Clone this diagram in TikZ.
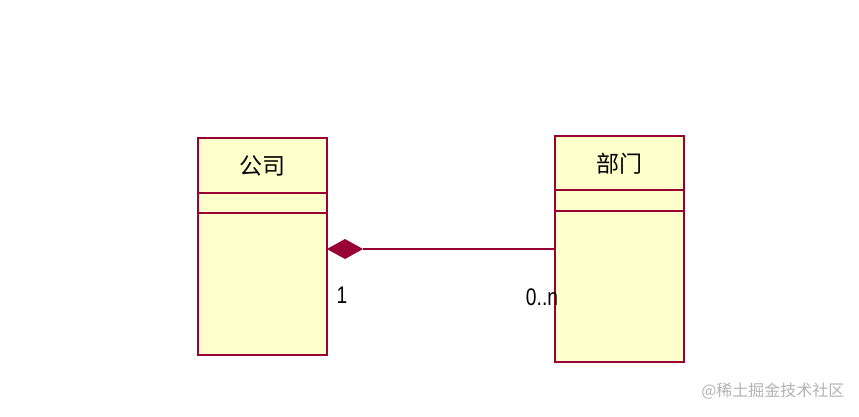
\documentclass[tikz,border=0pt]{standalone}
\usepackage{fontspec}
\setmainfont{Liberation Sans}
\newfontfamily\cjk{Noto Sans CJK SC}
\definecolor{umlred}{HTML}{990033}
\definecolor{umlfill}{HTML}{FFFFCC}
\begin{document}
\begin{tikzpicture}[x=1pt,y=-1pt,
  cls/.style={draw=umlred,fill=umlfill,line width=1.5pt},
  sep/.style={draw=umlred,line width=1.5pt}]
\useasboundingbox (0,0) rectangle (859,416);
% left class
\path[cls] (198,138) rectangle (327,355);
\draw[sep] (198,193) -- (327,193);
\draw[sep] (198,213) -- (327,213);
\node (a) at (262.5,166) {\cjk\fontsize{23}{26}\selectfont 公司};
% right class
\path[cls] (555,136) rectangle (684,362);
\draw[sep] (555,190) -- (684,190);
\draw[sep] (555,211) -- (684,211);
\node (b) at (619.5,164) {\cjk\fontsize{23}{26}\selectfont 部门};
\coordinate (s) at (327,249);
\coordinate (t) at (555,249);
\coordinate (d) at (363,249);
\fill[umlred] (s) -- (345,239) -- (d) -- (345,259) -- cycle;
\draw[umlred,line width=1.8pt] (d) -- (t);
\node (m1) at (342,295) {\fontsize{24}{26}\selectfont\addfontfeature{FakeStretch=0.8} 1};
\node (m2) at (542,297) {\fontsize{24}{26}\selectfont\addfontfeature{FakeStretch=0.8} 0..n};
\node[text=gray!60,anchor=east] (w) at (848,391) {\cjk\fontsize{16}{18}\selectfont @稀土掘金技术社区};
\end{tikzpicture}
\end{document}
